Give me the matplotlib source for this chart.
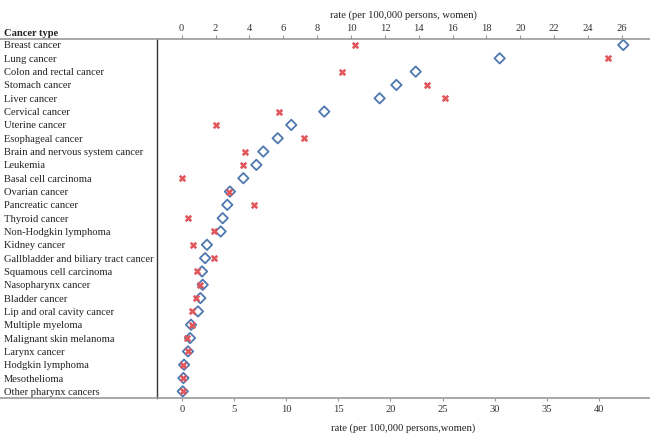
import matplotlib
matplotlib.use('Agg')
import matplotlib.pyplot as plt
from matplotlib.lines import Line2D
import numpy as np

plt.rcParams['font.family'] = ['Liberation Serif', 'DejaVu Serif']

cancer_types = ['Breast cancer', 'Lung cancer', 'Colon and rectal cancer', 'Stomach cancer',
                'Liver cancer', 'Cervical cancer', 'Uterine cancer', 'Esophageal cancer',
                'Brain and nervous system cancer', 'Leukemia', 'Basal cell carcinoma',
                'Ovarian cancer', 'Pancreatic cancer', 'Thyroid cancer', 'Non-Hodgkin lymphoma',
                'Kidney cancer', 'Gallbladder and biliary tract cancer', 'Squamous cell carcinoma',
                'Nasopharynx cancer', 'Bladder cancer', 'Lip and oral cavity cancer',
                'Multiple myeloma', 'Malignant skin melanoma', 'Larynx cancer',
                'Hodgkin lymphoma', 'Mesothelioma', 'Other pharynx cancers']

# rates (per 100,000 women)
blue_rates = [26.08, 18.78, 13.82, 12.68, 11.69, 8.42, 6.47, 5.67, 4.82, 4.41, 3.64,
              2.85, 2.69, 2.42, 2.30, 1.49, 1.38, 1.20, 1.24, 1.10, 0.96,
              0.55, 0.49, 0.37, 0.14, 0.10, 0.06]
red_rates = [10.22, 25.18, 9.47, 14.47, 15.57, 5.77, 2.01, 7.22, 3.74, 3.62, 0.0,
             2.80, 4.29, 0.35, 1.89, 0.69, 1.89, 0.92, 1.06, 0.83, 0.59,
             0.60, 0.33, 0.35, 0.10, 0.10, 0.06]

top_ticks = np.arange(0, 27, 2)
bottom_ticks = np.arange(0, 45, 5)

fs = 7.6
fig = plt.figure(figsize=(6.5, 4.37), dpi=100)
W, H = 650, 437
ax = fig.add_axes([157 / W, 1 - 398 / H, 1 - 157 / W, (398 - 39) / H])
ax2 = ax.twiny()

y = np.arange(len(cancer_types))
ax.scatter(blue_rates, y, marker='D', s=28, facecolors='none', edgecolors='#4f78b0',
           linewidths=1.3, zorder=3)
ax.scatter(red_rates, y, marker='X', s=28, color='#e0565b', linewidths=0, zorder=4)

ax.set_ylim(26.5, -0.45)
ax.set_xlim(-1.46, 27.66)
ax.set_yticks(y)
ax.set_yticklabels(cancer_types, fontsize=fs, color='#222222')
ax.tick_params(axis='y', length=0, pad=153 * 0.72)
for lbl in ax.get_yticklabels():
    lbl.set_horizontalalignment('left')

# top axis: the scale the points are drawn on
ax.xaxis.tick_top()
ax.xaxis.set_label_position('top')
ax.set_xticks(top_ticks)
ax.tick_params(axis='x', labelsize=fs, colors='#999999', labelcolor='#333333',
               length=3, width=0.8, pad=1)
ax.set_xlabel('rate (per 100,000 persons, women)', fontsize=fs, color='#222222', labelpad=5)

for s in ['top', 'bottom', 'right']:
    ax.spines[s].set_visible(False)
ax.spines['left'].set_color('#333333')
ax.spines['left'].set_linewidth(1.0)

# bottom axis with its own scale
ax2.set_xlim(-2.4, 44.9)
ax2.xaxis.tick_bottom()
ax2.xaxis.set_label_position('bottom')
ax2.set_xticks(bottom_ticks)
ax2.tick_params(axis='x', labelsize=fs, colors='#999999', labelcolor='#333333',
                length=2, width=0.8, pad=3)
ax2.set_xlabel('rate (per 100,000 persons,women)', fontsize=fs, color='#222222', labelpad=7)
for s in ax2.spines.values():
    s.set_visible(False)

# full-width horizontal rules
for yy in [39, 398]:
    fig.add_artist(Line2D([0, 1], [1 - yy / H, 1 - yy / H], transform=fig.transFigure,
                          color='#999999', linewidth=1.2))

fig.text(4 / W, 1 - 33.5 / H, 'Cancer type', fontsize=fs, fontweight='bold',
         ha='left', va='center', color='#222222')

fig.savefig('out.png', dpi=100)
